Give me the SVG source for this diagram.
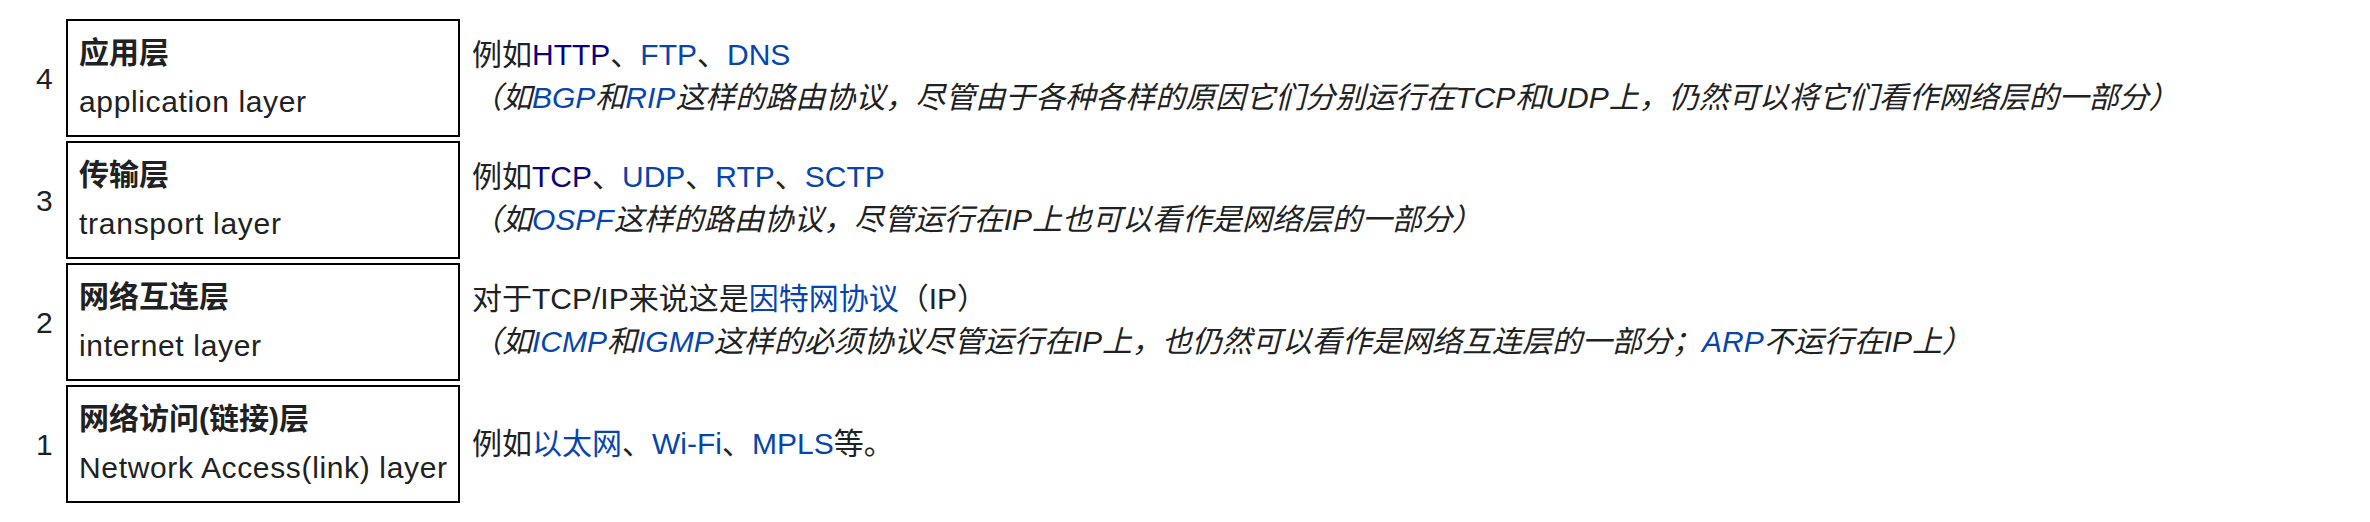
<svg xmlns="http://www.w3.org/2000/svg" width="2370" height="522" viewBox="0 0 2370 522">
<style>
  text { font-family: "Liberation Sans", "Noto Sans CJK SC", sans-serif; fill: #202122; }
  .num { font-size: 30px; }
  .box { fill: #ffffff; stroke: #000000; stroke-width: 2; }
  .title { font-size: 30px; font-weight: bold; }
  .en { font-size: 30px; }
  .desc { font-size: 30px; }
  .note { font-size: 30px; font-style: italic; }
  .lk { fill: #0645ad; }
  .vis { fill: #0b0080; }
</style>
<rect width="2370" height="522" fill="#ffffff"/>
<g id="connectors"/>
<g id="layer4">
  <text class="num" x="36" y="89">4</text>
  <rect class="box" x="67" y="20" width="392" height="116"/>
  <text class="title" x="79" y="63">应用层</text>
  <text class="en" x="79" y="112" textLength="227">application layer</text>
  <text class="desc" x="472" y="65">例如<tspan class="vis">HTTP</tspan>、<tspan class="lk">FTP</tspan>、<tspan class="lk">DNS</tspan></text>
  <text class="note" x="472" y="108">（如<tspan class="lk">BGP</tspan>和<tspan class="lk">RIP</tspan>这样的路由协议，尽管由于各种各样的原因它们分别运行在TCP和UDP上，仍然可以将它们看作网络层的一部分）</text>
</g>
<g id="layer3">
  <text class="num" x="36" y="211">3</text>
  <rect class="box" x="67" y="142" width="392" height="116"/>
  <text class="title" x="79" y="185">传输层</text>
  <text class="en" x="79" y="234" textLength="202">transport layer</text>
  <text class="desc" x="472" y="187">例如<tspan class="vis">TCP</tspan>、<tspan class="lk">UDP</tspan>、<tspan class="lk">RTP</tspan>、<tspan class="lk">SCTP</tspan></text>
  <text class="note" x="472" y="230">（如<tspan class="lk">OSPF</tspan>这样的路由协议，尽管运行在IP上也可以看作是网络层的一部分）</text>
</g>
<g id="layer2">
  <text class="num" x="36" y="333">2</text>
  <rect class="box" x="67" y="264" width="392" height="116"/>
  <text class="title" x="79" y="307">网络互连层</text>
  <text class="en" x="79" y="356" textLength="182">internet layer</text>
  <text class="desc" x="472" y="309">对于TCP/IP来说这是<tspan class="lk">因特网协议</tspan>（IP）</text>
  <text class="note" x="472" y="352">（如<tspan class="lk">ICMP</tspan>和<tspan class="lk">IGMP</tspan>这样的必须协议尽管运行在IP上，也仍然可以看作是网络互连层的一部分；<tspan class="lk">ARP</tspan>不运行在IP上）</text>
</g>
<g id="layer1">
  <text class="num" x="36" y="455">1</text>
  <rect class="box" x="67" y="386" width="392" height="116"/>
  <text class="title" x="79" y="429">网络访问(链接)层</text>
  <text class="en" x="79" y="478" textLength="368">Network Access(link) layer</text>
  <text class="desc" x="472" y="454">例如<tspan class="lk">以太网</tspan>、<tspan class="lk">Wi-Fi</tspan>、<tspan class="lk">MPLS</tspan>等。</text>
</g>
</svg>
